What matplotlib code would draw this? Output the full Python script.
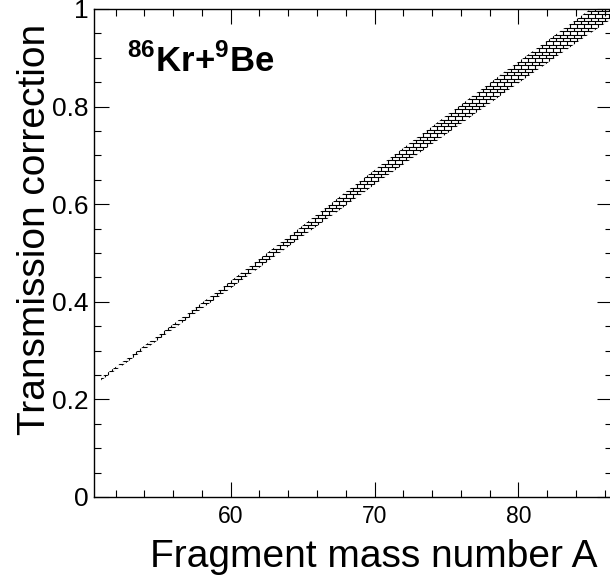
import numpy as np
import matplotlib
matplotlib.use('Agg')
import matplotlib.pyplot as plt
from matplotlib.collections import LineCollection
from matplotlib.ticker import MultipleLocator

# ---- data ----
mass = [51, 52, 53, 54, 55, 56, 57, 58, 59, 60,
        61, 62, 63, 64, 65, 66, 67, 68, 69, 70,
        71, 72, 73, 74, 75, 76, 77, 78, 79, 80,
        81, 82, 83, 84, 85, 86, 87]
correction = [0.242, 0.263, 0.284, 0.306, 0.327, 0.349, 0.370, 0.392, 0.413, 0.435,
              0.457, 0.479, 0.501, 0.523, 0.545, 0.567, 0.589, 0.611, 0.633, 0.655,
              0.677, 0.698, 0.720, 0.741, 0.763, 0.784, 0.806, 0.827, 0.849, 0.870,
              0.891, 0.912, 0.933, 0.954, 0.975, 0.995, 1.015]
uncertainty = [0.003, 0.0033, 0.0037, 0.004, 0.0045, 0.005, 0.0055, 0.006, 0.0065, 0.0075,
               0.008, 0.009, 0.0095, 0.010, 0.011, 0.012, 0.013, 0.014, 0.0145, 0.015,
               0.016, 0.017, 0.0175, 0.018, 0.019, 0.0195, 0.020, 0.021, 0.0215, 0.022,
               0.0225, 0.023, 0.0235, 0.024, 0.0245, 0.025, 0.025]

xticks = [60, 70, 80]
xticklabels = ['60', '70', '80']
yticks = [0, 0.2, 0.4, 0.6, 0.8, 1.0]
yticklabels = ['0', '0.2', '0.4', '0.6', '0.8', '1']

plt.rcParams['font.family'] = ['Liberation Sans', 'DejaVu Sans']
plt.rcParams['mathtext.fontset'] = 'custom'
plt.rcParams['mathtext.rm'] = 'Liberation Sans'
plt.rcParams['mathtext.bf'] = 'Liberation Sans:bold'

W_PX, H_PX = 610, 575
fig = plt.figure(figsize=(W_PX / 100, H_PX / 100), dpi=100)
ax_l, ax_b, ax_w, ax_h = 94 / W_PX, 78 / H_PX, 518 / W_PX, 488 / H_PX
ax = fig.add_axes([ax_l, ax_b, ax_w, ax_h])

m = np.array(mass, dtype=float)
c = np.array(correction)
e = np.array(uncertainty)
band = ax.fill_between(m, c - e, c + e, facecolor='none', edgecolor='none', linewidth=0)

# brick hatch pattern (ROOT fill style 3010), clipped to the band
axw_px, axh_px = ax_w * W_PX, ax_h * H_PX
row = 3.4 / axh_px
bw = 7.0 / axw_px
segs = []
ys = np.arange(0, 1 + row, row)
for i, y in enumerate(ys):
    segs.append([(0, y), (1, y)])
    off = 0 if i % 2 == 0 else bw / 2
    for x in np.arange(off, 1 + bw, bw):
        segs.append([(x, y), (x, y + row)])
lc = LineCollection(segs, colors='black', linewidths=0.8, transform=ax.transAxes)
ax.add_collection(lc, autolim=False)
lc.set_clip_path(band.get_paths()[0], ax.transData)

ax.set_xlim(50.5, 86.5)
ax.set_ylim(0, 1)

ax.set_xticks(xticks)
ax.set_xticklabels(xticklabels)
ax.set_yticks(yticks)
ax.set_yticklabels(yticklabels)
ax.xaxis.set_minor_locator(MultipleLocator(2))
ax.yaxis.set_minor_locator(MultipleLocator(0.05))
ax.tick_params(which='both', direction='in', top=True, right=True, width=0.8, color='black')
ax.tick_params(which='major', length=10.5)
ax.tick_params(which='minor', length=5.3)
ax.tick_params(axis='x', which='major', labelsize=16.5, pad=6)
ax.tick_params(axis='y', which='major', labelsize=19, pad=4)
for s in ax.spines.values():
    s.set_linewidth(1.0)
ax.spines['right'].set_visible(False)

fig.text(598 / W_PX, (H_PX - 567) / H_PX, 'Fragment mass number A',
         fontsize=28, ha='right', va='baseline')
fig.text(45 / W_PX, (H_PX - 24) / H_PX, 'Transmission correction',
         fontsize=28, ha='right', va='baseline', rotation=90, rotation_mode='anchor')
fig.text(127 / W_PX, (H_PX - 72) / H_PX,
         r'${}^{\mathbf{86}}\mathbf{Kr{+}}{}^{\mathbf{9}}\mathbf{Be}$',
         fontsize=25, ha='left', va='baseline')

fig.savefig('out.png', dpi=100)
